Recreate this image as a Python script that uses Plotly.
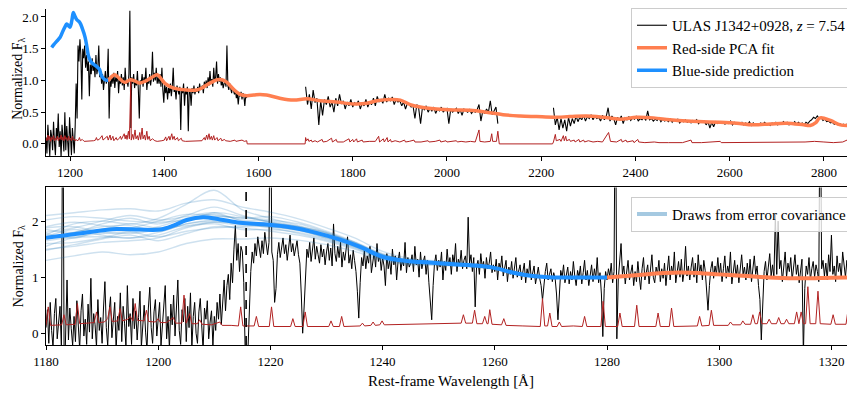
import plotly.graph_objects as go

# ---------------- TOP PANEL DATA ----------------
# observed spectrum (binned), segment A: 1149-1575 A, step 2 A
top_a_start, top_a_step = 1149.0, 2.0
top_a_flux = [
    0.10, -0.15, 0.30, 0.05, -0.20, 0.22, 0.12, -0.10, 0.35, 0.02,
    -0.18, 0.25, 0.08, 0.48, -0.05, 0.20, -0.22, 0.30, 0.10, -0.12,
    0.50, -0.10, 0.28, 0.05, -0.20, 0.42, 0.00, -0.18, 0.25, 0.10,
    -0.15, 0.30, 0.95, 0.40, 1.55, 1.30, 1.65, 1.40, 0.70, 1.50,
    1.35, 1.55, 1.20, 1.40, 1.15, 1.30, 0.75, 1.25, 1.10, 1.35,
    1.15, 1.25, 1.05, 1.40, 1.10, 1.20, 1.55, 1.05, 1.15, 0.95,
    1.10, 0.85, 1.00, 1.15, 0.95, 1.05, 1.50, 0.40, 1.00, 0.90,
    1.08, 0.95, 1.12, 0.88, 1.05, 0.98, 1.15, 0.80, 1.02, 0.95,
    1.10, 0.92, 1.05, 0.85, 1.20, 0.95, 1.00, 0.90, 1.10, 2.10,
    0.25, 1.05, 0.95, 1.10, 0.88, 1.00, 0.92, 1.15, 0.85, 0.40,
    1.00, 0.95, 1.10, 0.90, 1.05, 0.98, 1.20, 0.85, 1.02, 0.95,
    1.10, 0.92, 1.05, 1.45, 0.98, 1.12, 1.00, 1.20, 0.95, 1.05,
    0.95, 1.10, 0.90, 1.20, 0.85, 0.65, 0.95, 0.80, 0.90, 0.70,
    0.88, 0.80, 0.95, 0.75, 0.90, 1.20, 0.82, 0.88, 0.70, 0.92,
    0.85, 0.78, 0.90, 0.22, 0.88, 0.80, 0.95, 0.60, 0.85, 0.78,
    0.90, 0.20, 0.85, 0.82, 0.60, 0.88, 0.80, 0.92, 0.78, 0.85,
    0.82, 0.90, 0.80, 0.95, 0.85, 0.88, 0.92, 0.80, 0.98, 0.90,
    1.00, 0.88, 1.05, 0.92, 1.15, 0.95, 1.02, 0.90, 1.20, 0.98,
    1.05, 1.30, 0.95, 1.10, 0.98, 1.05, 0.92, 1.00, 0.88, 0.95,
    1.00, 0.90, 1.55, 0.92, 0.85, 0.95, 0.88, 0.80, 0.90, 0.82,
    0.78, 0.85, 0.72, 0.80, 0.62, 0.78, 0.75, 0.82, 0.70, 0.80,
    0.75, 0.60, 0.78, 0.72,
]
# segment C: 1700-2108 A, step 4 A
top_c_start, top_c_step = 1700.0, 4.0
top_c_flux = [
    0.90, 0.62, 0.78, 0.55, 0.85, 0.65, 0.72, 0.30, 0.68, 0.45,
    0.70, 0.62, 0.75, 0.58, 0.66, 0.50, 0.72, 0.60, 0.78, 0.63,
    0.68, 0.55, 0.66, 0.60, 0.70, 0.58, 0.65, 0.62, 0.68, 0.55,
    0.64, 0.60, 0.70, 0.58, 0.66, 0.62, 0.72, 0.60, 0.75, 0.66,
    0.70, 0.64, 0.78, 0.66, 0.72, 0.68, 0.74, 0.62, 0.70, 0.66,
    0.68, 0.60, 0.66, 0.55, 0.64, 0.62, 0.58, 0.60, 0.40, 0.62,
    0.56, 0.32, 0.58, 0.54, 0.60, 0.50, 0.56, 0.52, 0.58, 0.48,
    0.55, 0.52, 0.58, 0.50, 0.54, 0.56, 0.32, 0.55, 0.50, 0.53,
    0.56, 0.48, 0.54, 0.45, 0.55, 0.52, 0.50, 0.54, 0.48, 0.52,
    0.50, 0.54, 0.62, 0.36, 0.52, 0.48, 0.55, 0.50, 0.68, 0.46,
    0.52, 0.58, 0.32,
]
# segment D: 2226-2866 A, step 4 A
top_d_start, top_d_step = 2226.0, 4.0
top_d_flux = [
    0.57, 0.30, 0.42, 0.22, 0.40, 0.25, 0.38, 0.20, 0.42, 0.28,
    0.40, 0.32, 0.44, 0.35, 0.42, 0.38, 0.45, 0.36, 0.43, 0.40,
    0.46, 0.38, 0.44, 0.40, 0.42, 0.36, 0.45, 0.38, 0.43, 0.57,
    0.36, 0.44, 0.40, 0.30, 0.42, 0.38, 0.44, 0.32, 0.41, 0.38,
    0.43, 0.37, 0.41, 0.39, 0.44, 0.36, 0.40, 0.38, 0.42, 0.37,
    0.52, 0.38, 0.40, 0.36, 0.39, 0.37, 0.41, 0.35, 0.39, 0.36,
    0.38, 0.35, 0.40, 0.34, 0.38, 0.36, 0.39, 0.33, 0.37, 0.35,
    0.38, 0.34, 0.36, 0.33, 0.37, 0.35, 0.38, 0.32, 0.36, 0.34,
    0.36, 0.30, 0.35, 0.25, 0.34, 0.27, 0.35, 0.32, 0.34, 0.33,
    0.35, 0.31, 0.34, 0.32, 0.36, 0.30, 0.34, 0.31, 0.33, 0.32,
    0.34, 0.30, 0.33, 0.31, 0.35, 0.29, 0.33, 0.30, 0.32, 0.31,
    0.33, 0.30, 0.34, 0.31, 0.32, 0.29, 0.33, 0.31, 0.34, 0.30,
    0.33, 0.31, 0.35, 0.32, 0.34, 0.30, 0.33, 0.32, 0.35, 0.31,
    0.34, 0.31, 0.33, 0.30, 0.34, 0.32, 0.36, 0.38, 0.42, 0.40,
    0.44, 0.40, 0.42, 0.37, 0.39, 0.35, 0.36, 0.33, 0.34, 0.31,
    0.33, 0.30, 0.32, 0.29, 0.31, 0.28, 0.32, 0.30, 0.31, 0.29,
    0.30,
]

# noise (error) spectrum, top panel
top_err_wl = [
    1149, 1151, 1153, 1155, 1157, 1159, 1161, 1163, 1165, 1167, 1169, 1171, 1173, 1175, 1177, 1179,
    1181, 1183, 1185, 1187, 1189, 1191, 1193, 1195, 1197, 1199, 1201, 1203, 1205, 1207, 1209, 1211,
    1213, 1215, 1218, 1220, 1222, 1226, 1230, 1240, 1250, 1254, 1256, 1258, 1262, 1268, 1270, 1279,
    1281, 1285, 1287, 1291, 1293, 1298, 1300, 1305, 1307, 1309, 1313, 1315, 1317, 1319, 1321, 1324,
    1326, 1329, 1330, 1333, 1335, 1338, 1340, 1343, 1345, 1348, 1350, 1353, 1355, 1358, 1360, 1363,
    1365, 1368, 1370, 1375, 1380, 1385, 1395, 1400, 1403, 1405, 1410, 1412, 1416, 1418, 1421, 1423,
    1428, 1430, 1436, 1438, 1445, 1460, 1470, 1475, 1480, 1485, 1487, 1490, 1492, 1495, 1497, 1500,
    1502, 1505, 1507, 1512, 1514, 1520, 1522, 1528, 1530, 1540, 1550, 1552, 1560, 1565, 1570, 1575,
    1576, 1699,
    1700, 1702, 1705, 1707, 1712, 1714, 1720, 1725, 1735, 1737, 1745, 1755, 1757, 1765, 1767, 1780,
    1792, 1794, 1800, 1802, 1808, 1810, 1820, 1822, 1835, 1848, 1855, 1857, 1865, 1867, 1873, 1875,
    1880, 1882, 1890, 1900, 1910, 1912, 1920, 1930, 1932, 1945, 1960, 1962, 1975, 1985, 1987, 1998,
    2000, 2010, 2020, 2022, 2030, 2040, 2050, 2060, 2068, 2070, 2080, 2092, 2095, 2097, 2105, 2108,
    2110, 2111, 2224,
    2226, 2230, 2232, 2240, 2242, 2247, 2249, 2252, 2254, 2260, 2262, 2270, 2272, 2280, 2282, 2290,
    2292, 2300, 2310, 2320, 2330, 2343, 2347, 2360, 2370, 2372, 2380, 2382, 2395, 2397, 2405, 2407,
    2420, 2440, 2450, 2470, 2500, 2518, 2520, 2540, 2560, 2562, 2580, 2582, 2600, 2620, 2640, 2660,
    2680, 2700, 2720, 2740, 2760, 2780, 2790, 2800, 2820, 2840, 2855, 2858, 2866,
]
top_err_val = [
    0.10, 0.05, 0.14, 0.06, 0.12, 0.04, 0.10, 0.07, 0.13, 0.05, 0.09, 0.06, 0.12, 0.05, 0.10, 0.07,
    0.14, 0.06, 0.11, 0.05, 0.13, 0.07, 0.10, 0.05, 0.12, 0.06, 0.09, 0.05, 0.12, 0.06, 0.08, 0.05,
    0.07, 0.05, 0.06, 0.10, 0.05, 0.07, 0.04, 0.04, 0.05, 0.06, 0.10, 0.06, 0.07, 0.13, 0.06, 0.12,
    0.06, 0.14, 0.06, 0.12, 0.05, 0.10, 0.06, 0.09, 0.12, 0.07, 0.13, 0.16, 0.08, 0.14, 0.07, 0.20,
    0.08, 1.00, 0.06, 0.15, 0.07, 0.22, 0.08, 0.13, 0.06, 0.18, 0.07, 0.25, 0.08, 0.14, 0.06, 0.20,
    0.07, 0.12, 0.05, 0.08, 0.05, 0.04, 0.05, 0.06, 0.11, 0.05, 0.12, 0.06, 0.16, 0.07, 0.12, 0.06,
    0.10, 0.05, 0.09, 0.05, 0.04, 0.04, 0.05, 0.04, 0.05, 0.10, 0.06, 0.14, 0.07, 0.16, 0.07, 0.12,
    0.06, 0.13, 0.06, 0.10, 0.05, 0.09, 0.05, 0.07, 0.05, 0.04, 0.06, 0.04, 0.05, 0.06, 0.04, 0.05,
    0.00, 0.00,
    0.10, 0.05, 0.08, 0.04, 0.06, 0.03, 0.05, 0.03, 0.07, 0.03, 0.04, 0.09, 0.03, 0.07, 0.03, 0.03,
    0.08, 0.03, 0.07, 0.03, 0.08, 0.03, 0.06, 0.03, 0.04, 0.04, 0.12, 0.03, 0.08, 0.03, 0.10, 0.03,
    0.07, 0.03, 0.05, 0.03, 0.06, 0.03, 0.04, 0.06, 0.03, 0.03, 0.05, 0.03, 0.04, 0.06, 0.03, 0.05,
    0.03, 0.04, 0.05, 0.03, 0.04, 0.03, 0.04, 0.03, 0.22, 0.04, 0.03, 0.04, 0.16, 0.04, 0.04, 0.20,
    0.03, 0.00, 0.00,
    0.03, 0.15, 0.05, 0.07, 0.04, 0.13, 0.05, 0.12, 0.05, 0.07, 0.04, 0.06, 0.03, 0.07, 0.03, 0.06,
    0.03, 0.05, 0.03, 0.04, 0.03, 0.18, 0.04, 0.03, 0.07, 0.03, 0.06, 0.03, 0.05, 0.02, 0.07, 0.03,
    0.02, 0.03, 0.02, 0.02, 0.02, 0.06, 0.02, 0.02, 0.03, 0.02, 0.04, 0.02, 0.02, 0.03, 0.02, 0.03,
    0.02, 0.02, 0.03, 0.02, 0.03, 0.04, 0.03, 0.03, 0.02, 0.03, 0.08, 0.04, 0.03,
]

# red-side PCA fit (top)
top_fit_wl = [1280, 1287, 1295, 1305, 1316, 1328, 1338, 1348, 1360, 1372, 1385, 1394, 1402, 1420,
              1448, 1469, 1480, 1490, 1500, 1512, 1522, 1533, 1547, 1561, 1575, 1590, 1603, 1617,
              1645, 1674, 1703, 1731, 1766, 1802, 1830, 1851, 1880, 1901, 1922, 1943, 1978, 2013,
              2049, 2084, 2119, 2155, 2190, 2226, 2261, 2296, 2332, 2367, 2403, 2438, 2473, 2509,
              2544, 2579, 2615, 2650, 2686, 2721, 2757, 2771, 2782, 2792, 2814, 2835, 2866]
top_fit_val = [0.99, 1.05, 1.09, 1.03, 0.97, 1.01, 0.99, 0.96, 0.99, 1.04, 1.09, 1.02, 0.95, 0.88,
               0.85, 0.85, 0.88, 0.93, 0.97, 1.01, 1.01, 0.97, 0.86, 0.78, 0.76, 0.77, 0.78, 0.77,
               0.72, 0.69, 0.71, 0.68, 0.66, 0.63, 0.64, 0.68, 0.70, 0.69, 0.62, 0.58, 0.55, 0.535,
               0.53, 0.50, 0.46, 0.44, 0.43, 0.42, 0.43, 0.44, 0.42, 0.39, 0.42, 0.41, 0.38, 0.36,
               0.35, 0.34, 0.325, 0.30, 0.315, 0.325, 0.30, 0.29, 0.33, 0.41, 0.37, 0.30, 0.29]

# blue-side prediction (top)
top_pred_wl = [1161, 1166, 1172, 1179, 1185, 1189, 1193, 1197, 1200, 1204, 1207, 1210, 1214, 1221,
               1226, 1232, 1236, 1239, 1244, 1249, 1255, 1262, 1267, 1274, 1281]
top_pred_val = [1.52, 1.57, 1.62, 1.68, 1.78, 1.84, 1.89, 1.86, 1.84, 1.95, 2.07, 2.02, 1.96, 1.91,
                1.82, 1.68, 1.52, 1.39, 1.30, 1.26, 1.23, 1.18, 1.07, 1.01, 1.00]

# ---------------- BOTTOM PANEL DATA ----------------
bot_start, bot_step = 1180.0, 0.25
bot_flux = [
    # 1180
    0.10, 0.42, -0.18, 0.55, 0.05, -0.25, 0.35, 0.62, -0.10, 0.20, 0.48, -0.30, 5.00, -1.00, 0.30, 0.95, -0.12, 0.45, 0.08, -0.22,
    # 1185
    0.30, -0.15, 0.58, 0.12, -0.28, 0.40, 0.70, -0.05, 0.25, -0.20, 0.52, 0.02, 0.98, -0.10, 0.35, 0.15, -0.25, 0.60, 0.05, 0.28,
    # 1190
    -0.18, 0.45, 0.92, 0.10, -0.22, 0.38, 0.65, -0.08, 0.22, 0.55, -0.30, 0.30, 0.05, 0.72, -0.15, 0.48, 0.18, -0.25, 0.85, 0.12,
    # 1195
    0.35, -0.20, 0.62, 0.08, 0.40, -0.12, 0.28, 0.75, -0.25, 0.18, 0.50, 0.02, -0.30, 0.45, 0.82, 0.10, -0.18, 0.38, 0.60, -0.05,
    # 1200
    0.25, 0.55, -0.22, 0.12, 0.40, 0.85, -0.10, 0.30, -0.28, 0.52, 0.15, 0.68, -0.05, 0.35, 0.95, 0.05, -0.20, 0.42, 0.20, 0.62,
    # 1205
    -0.15, 0.48, 0.10, 0.72, -0.25, 0.30, 0.55, 0.00, -0.18, 0.38, 0.62, 0.15, -0.30, 0.45, 0.25, 0.58, -0.10, 0.20, 0.40, -0.22,
    # 1210
    0.30, 0.05, 0.55, 0.25, 0.70, 0.15, 0.60, 0.95, 0.40, 0.85, 1.05, 0.60, 1.25, 0.90, 1.50, 1.92, 1.30, 1.60, 1.10, 1.55,
    # 1215
    1.45, 0.90, -0.30, -0.35, -0.30, 0.60, 1.10, 1.45, 1.25, 1.60, 1.38, 1.72, 1.50, 1.35, 1.65, 1.42, 1.80, 1.55, 1.40, 1.62,
    # 1220
    5.00, 1.45, 1.30, 0.55, 0.80, 1.40, 1.62, 1.35, 1.55, 1.70, 1.42, 1.58, 1.30, 1.50, 1.75, 1.45, 1.60, 1.38, 1.52, 1.65,
    # 1225
    1.40, 1.25, 0.70, 0.00, 0.45, 1.10, 1.50, 1.35, 1.62, 1.28, 1.48, 1.70, 1.32, 1.55, 1.40, 1.25, 1.58, 1.36, 1.50, 1.22,
    # 1230
    1.45, 1.60, 1.30, 1.52, 1.20, 1.95, 1.42, 1.28, 1.55, 1.35, 1.62, 1.18, 1.45, 1.30, 1.50, 1.72, 1.25, 1.40, 1.15, 1.48,
    # 1235
    1.30, 1.10, 0.75, 0.27, 0.90, 1.35, 1.20, 1.48, 1.15, 1.38, 1.25, 1.55, 1.08, 1.32, 1.45, 1.18, 1.60, 1.28, 1.40, 1.12,
    # 1240
    1.35, 1.20, 0.85, 1.42, 1.15, 1.30, 1.05, 1.50, 1.22, 1.38, 0.95, 1.28, 1.45, 1.12, 1.30, 1.20, 1.62, 1.08, 1.35, 1.18,
    # 1245
    1.25, 1.40, 1.10, 1.55, 1.22, 1.32, 1.00, 1.45, 1.15, 1.28, 1.38, 1.05, 1.30, 0.90, 0.60, 0.24, 0.85, 1.25, 1.40, 1.12,
    # 1250
    1.30, 1.18, 1.45, 0.95, 1.28, 1.12, 1.50, 1.20, 1.35, 1.05, 1.40, 1.25, 1.60, 1.10, 1.32, 1.22, 1.48, 1.15, 1.30, 1.38,
    # 1255
    1.15, 2.07, 1.25, 1.40, 1.10, 1.35, 0.47, 1.20, 1.30, 1.05, 1.42, 1.18, 1.28, 0.98, 1.35, 1.15, 1.25, 1.45, 1.08, 1.22,
    # 1260
    1.10, 1.32, 0.95, 1.25, 1.15, 1.38, 1.02, 1.20, 1.30, 0.92, 1.18, 1.05, 1.28, 0.98, 1.15, 1.35, 1.00, 1.12, 1.22, 0.95,
    # 1265
    1.08, 1.25, 0.90, 1.15, 1.02, 1.30, 0.95, 1.12, 1.20, 0.88, 1.05, 1.18, 0.98, 0.85, 0.59, 0.92, 1.10, 1.25, 0.95, 1.05,
    # 1270
    1.15, 0.92, 1.08, 0.98, 0.70, 0.24, 0.80, 1.12, 1.00, 1.22, 0.90, 1.05, 1.18, 0.88, 1.10, 0.95, 1.28, 1.02, 0.85, 1.12,
    # 1275
    1.00, 1.20, 0.88, 1.08, 1.30, 0.95, 1.12, 0.85, 1.05, 1.22, 0.92, 1.15, 0.98, 1.35, 0.90, 1.08, 0.70, -0.06, 0.80, 1.10,
    # 1280
    0.95, 1.15, 1.02, 1.25, 0.90, 1.10, 5.00, -0.10, 0.95, 1.35, 1.60, 1.05, 1.20, 0.88, 1.12, 1.30, 0.95, 1.08, 1.22, 0.85,
    # 1285
    1.10, 0.92, 1.28, 1.00, 0.78, 1.15, 1.35, 0.95, 1.08, 1.22, 0.88, 1.12, 1.40, 1.00, 0.90, 1.18, 1.05, 1.30, 0.92, 1.15,
    # 1290
    0.98, 1.25, 0.85, 1.12, 1.38, 0.95, 1.20, 1.05, 1.45, 0.90, 1.15, 1.28, 1.00, 1.32, 0.92, 1.10, 1.55, 1.02, 1.20, 0.95,
    # 1295
    1.18, 1.35, 1.00, 1.25, 0.90, 1.40, 1.08, 1.22, 0.95, 1.30, 1.12, 0.80, 0.41, 0.85, 1.15, 1.28, 0.98, 1.20, 1.05, 1.35,
    # 1300
    1.02, 1.25, 0.92, 1.15, 1.38, 0.98, 1.20, 1.08, 1.45, 0.88, 1.12, 1.30, 1.00, 1.22, 0.90, 1.15, 1.40, 1.05, 1.18, 0.95,
    # 1305
    1.25, 1.00, 1.32, 0.92, 1.15, 1.38, 1.05, 1.20, 0.85, 0.60, -0.12, 0.70, 1.10, 1.28, 0.95, 1.18, 1.42, 1.02, 1.22, 0.98,
    # 1310
    2.12, 1.05, 2.00, 1.15, 1.30, 0.92, 1.20, 1.45, 1.00, 1.25, 1.10, 1.35, 0.95, 1.18, 1.40, 1.05, 1.22, 0.90, 1.15, 1.32,
    # 1315
    -0.40, 0.80, 1.20, 1.05, 1.35, 0.95, 1.15, 1.28, 1.00, 1.22, 1.10, 0.92, 5.00, 1.15, 1.30, 1.02, 1.25, 0.95, 1.40, 1.10,
    # 1320
    1.75, 1.05, 1.20, 0.92, 1.38, 1.10, 1.25, 0.98, 1.45, 1.15, 1.00, 1.30, 0.95, 1.20, 1.42, 1.05, 1.18, 0.90, 1.28, 1.12,
]

bot_err_wl = [
    1180.0, 1180.4, 1180.8, 1182.0, 1182.8, 1183.2, 1183.6, 1185.2, 1185.6, 1186.0, 1187.5, 1188.6,
    1189.0, 1189.4, 1190.4, 1191.0, 1191.4, 1191.8, 1192.8, 1193.2, 1193.6, 1194.6, 1195.0, 1195.5,
    1195.9, 1196.3, 1197.5, 1197.9, 1198.3, 1199.5, 1200.0, 1200.4, 1201.5, 1202.7, 1203.1, 1204.2,
    1204.6, 1205.0, 1205.6, 1206.0, 1207.0, 1207.4, 1207.8, 1209.5, 1211.0, 1211.4, 1213.0, 1214.3,
    1214.7, 1215.1, 1217.1, 1217.5, 1217.9, 1219.8, 1220.2, 1220.6, 1223.6, 1224.0, 1224.4, 1225.8,
    1226.2, 1226.6, 1230.4, 1230.8, 1231.2, 1232.3, 1232.7, 1233.1, 1236.0, 1236.4, 1236.8, 1237.9,
    1238.3, 1238.7, 1239.5, 1239.9, 1240.3, 1244.0, 1246.0, 1250.0, 1252.0, 1254.0, 1254.4, 1254.8,
    1256.0, 1256.4, 1256.8, 1257.8, 1258.2, 1258.6, 1258.8, 1259.1, 1259.5, 1261.2, 1261.6, 1262.0,
    1265.0, 1268.1, 1268.5, 1268.9, 1269.4, 1269.8, 1270.2, 1271.1, 1271.5, 1271.9, 1274.0, 1275.6,
    1276.0, 1276.4, 1278.9, 1279.3, 1279.7, 1281.9, 1282.3, 1282.7, 1284.9, 1285.3, 1285.7, 1288.7,
    1289.1, 1289.5, 1291.1, 1291.5, 1291.9, 1294.0, 1296.1, 1296.5, 1296.9, 1298.2, 1298.6, 1299.0,
    1301.6, 1302.0, 1302.4, 1303.8, 1304.2, 1304.6, 1305.6, 1306.0, 1306.4, 1306.8, 1307.2, 1307.6,
    1308.5, 1308.9, 1309.3, 1310.2, 1310.6, 1311.0, 1311.6, 1312.0, 1312.4, 1313.4, 1313.8, 1314.2,
    1314.6, 1315.0, 1315.4, 1315.8, 1316.2, 1317.2, 1317.6, 1318.0, 1319.9, 1320.3, 1320.7, 1322.6,
    1323.0, 1323.4, 1324.5,
]
bot_err_val = [
    0.14, 0.47, 0.14, 0.15, 0.15, 0.33, 0.15, 0.16, 0.53, 0.17, 0.18, 0.19,
    0.38, 0.19, 0.20, 0.26, 0.47, 0.21, 0.22, 0.44, 0.22, 0.25, 0.30, 0.22,
    0.53, 0.23, 0.22, 0.41, 0.21, 0.20, 0.26, 0.19, 0.19, 0.28, 0.18, 0.18,
    0.68, 0.18, 0.35, 0.17, 0.17, 0.24, 0.16, 0.15, 0.20, 0.14, 0.14, 0.13,
    0.47, 0.13, 0.13, 0.30, 0.12, 0.12, 0.47, 0.12, 0.12, 0.26, 0.12, 0.12,
    0.38, 0.12, 0.12, 0.22, 0.12, 0.12, 0.30, 0.12, 0.13, 0.18, 0.13, 0.14,
    0.20, 0.14, 0.15, 0.22, 0.15, 0.16, 0.17, 0.17, 0.18, 0.18, 0.33, 0.18,
    0.18, 0.41, 0.17, 0.17, 0.30, 0.17, 0.17, 0.42, 0.16, 0.15, 0.26, 0.14,
    0.13, 0.12, 0.62, 0.13, 0.13, 0.36, 0.12, 0.12, 0.20, 0.12, 0.13, 0.12,
    0.30, 0.12, 0.12, 0.57, 0.12, 0.12, 0.36, 0.12, 0.12, 0.50, 0.12, 0.12,
    0.36, 0.12, 0.12, 0.45, 0.12, 0.13, 0.13, 0.30, 0.13, 0.14, 0.41, 0.14,
    0.14, 0.20, 0.15, 0.15, 0.22, 0.16, 0.16, 0.33, 0.17, 0.17, 0.38, 0.17,
    0.17, 0.25, 0.17, 0.17, 0.28, 0.17, 0.17, 0.25, 0.17, 0.17, 0.38, 0.17,
    0.38, 0.17, 0.17, 0.83, 0.17, 0.17, 0.75, 0.17, 0.16, 0.33, 0.16, 0.16,
    0.45, 0.16, 0.16,
]

bot_pred_wl = [1180.0, 1186.6, 1192.6, 1196.7, 1200.3, 1202.7, 1205.1, 1208.0, 1211.0, 1214.6,
               1219.3, 1223.5, 1228.2, 1232.4, 1236.0, 1240.1, 1244.3, 1248.4, 1252.6, 1256.1,
               1259.7, 1263.3, 1266.8, 1270.4, 1275.0, 1280.0]
bot_pred_val = [1.705, 1.79, 1.86, 1.85, 1.85, 1.92, 2.02, 2.07, 2.03, 1.97,
                1.94, 1.89, 1.79, 1.67, 1.54, 1.36, 1.29, 1.26, 1.23, 1.21,
                1.17, 1.08, 1.02, 0.995, 0.995, 0.995]

bot_fit_wl = [1280.0, 1285.0, 1290.0, 1295.0, 1300.0, 1305.0, 1310.0, 1315.0, 1320.0, 1324.5]
bot_fit_val = [0.995, 1.035, 1.075, 1.08, 1.05, 1.02, 0.99, 0.98, 0.99, 0.995]

# draws from the error covariance (grid 1180..1280 A, every 5 A)
draw_wl = [1180, 1185, 1190, 1195, 1200, 1205, 1210, 1215, 1220, 1225, 1230,
           1235, 1240, 1245, 1250, 1255, 1260, 1265, 1270, 1275, 1280]
draws = [
    [2.10, 2.15, 2.20, 2.22, 2.18, 2.32, 2.38, 2.25, 2.16, 2.04, 1.88, 1.70, 1.46, 1.33, 1.29, 1.25, 1.18, 1.06, 1.01, 1.00, 0.995],
    [1.30, 1.38, 1.45, 1.40, 1.45, 1.60, 1.68, 1.68, 1.70, 1.66, 1.58, 1.46, 1.30, 1.22, 1.21, 1.19, 1.14, 1.04, 0.99, 0.99, 0.995],
    [1.85, 1.80, 1.95, 2.05, 1.95, 2.10, 2.25, 2.10, 1.98, 1.90, 1.80, 1.60, 1.40, 1.29, 1.26, 1.23, 1.17, 1.06, 1.00, 1.00, 0.995],
    [1.55, 1.70, 1.72, 1.70, 1.75, 1.90, 1.95, 1.85, 1.85, 1.80, 1.68, 1.53, 1.33, 1.25, 1.24, 1.21, 1.15, 1.05, 1.00, 0.99, 0.995],
    [1.75, 1.95, 2.00, 1.95, 2.05, 2.30, 2.55, 2.20, 2.05, 1.92, 1.78, 1.62, 1.40, 1.29, 1.27, 1.23, 1.17, 1.05, 1.00, 1.00, 0.995],
    [1.60, 1.62, 1.70, 1.80, 1.72, 1.82, 1.88, 1.90, 1.90, 1.83, 1.70, 1.55, 1.36, 1.26, 1.24, 1.22, 1.16, 1.05, 1.00, 0.995, 0.995],
    [1.90, 1.98, 1.92, 1.88, 2.00, 2.12, 2.10, 2.05, 2.08, 1.98, 1.82, 1.63, 1.42, 1.30, 1.27, 1.23, 1.17, 1.06, 1.01, 1.00, 0.995],
    [1.48, 1.58, 1.68, 1.75, 1.65, 1.78, 1.90, 1.88, 1.82, 1.75, 1.64, 1.50, 1.32, 1.24, 1.23, 1.21, 1.15, 1.04, 0.99, 0.99, 0.995],
    [1.80, 1.88, 2.00, 2.10, 2.02, 2.08, 2.15, 2.00, 1.95, 1.88, 1.76, 1.58, 1.38, 1.28, 1.25, 1.22, 1.16, 1.05, 1.00, 0.995, 0.995],
    [1.65, 1.72, 1.78, 1.82, 1.90, 2.05, 2.12, 2.02, 2.00, 1.90, 1.75, 1.56, 1.36, 1.27, 1.26, 1.22, 1.16, 1.05, 1.00, 0.995, 0.995],
    [1.72, 1.85, 1.75, 1.70, 1.80, 1.95, 2.00, 1.95, 1.90, 1.84, 1.70, 1.55, 1.37, 1.27, 1.25, 1.22, 1.16, 1.05, 1.00, 0.995, 0.995],
    [2.02, 2.08, 2.05, 2.00, 1.98, 2.02, 2.08, 2.06, 2.02, 1.95, 1.80, 1.62, 1.40, 1.29, 1.26, 1.23, 1.17, 1.05, 1.00, 1.00, 0.995],
    [1.50, 1.55, 1.62, 1.65, 1.70, 1.88, 1.98, 1.95, 1.88, 1.78, 1.66, 1.52, 1.34, 1.25, 1.24, 1.21, 1.15, 1.05, 0.99, 0.99, 0.995],
    [1.78, 1.70, 1.85, 1.95, 1.88, 1.92, 1.98, 1.92, 1.96, 1.90, 1.78, 1.60, 1.39, 1.28, 1.25, 1.22, 1.16, 1.05, 1.00, 0.995, 0.995],
    [1.68, 1.80, 1.90, 1.92, 1.82, 1.95, 2.02, 1.98, 1.92, 1.85, 1.72, 1.57, 1.37, 1.27, 1.25, 1.22, 1.16, 1.05, 1.00, 0.995, 0.995],
    [1.88, 1.90, 1.80, 1.78, 1.85, 2.00, 2.15, 2.08, 1.98, 1.87, 1.74, 1.58, 1.38, 1.27, 1.25, 1.22, 1.16, 1.05, 1.00, 0.995, 0.995],
]

LYA = 1215.67
top_xticks = [1200, 1400, 1600, 1800, 2000, 2200, 2400, 2600, 2800]
top_yticks = [0.0, 0.5, 1.0, 1.5, 2.0]
top_yticklabels = ["0.0", "0.5", "1.0", "1.5", "2.0"]
bot_xticks = [1180, 1200, 1220, 1240, 1260, 1280, 1300, 1320]
bot_yticks = [0, 1, 2]

# ---------------- styles ----------------
BLACK = "black"
RED = "#b22222"
ORANGE = "#ff7f50"
BLUE = "#1e90ff"
FONT = "Liberation Serif"


def grid(start, step, vals):
    return [start + i * step for i in range(len(vals))]


top_x, top_y = [], []
for s, st, v in [(top_a_start, top_a_step, top_a_flux),
                 (top_c_start, top_c_step, top_c_flux),
                 (top_d_start, top_d_step, top_d_flux)]:
    top_x += grid(s, st, v) + [None]
    top_y += list(v) + [None]

fig = go.Figure()

# top panel
fig.add_trace(go.Scatter(x=top_x, y=top_y, mode="lines", line=dict(color=BLACK, width=1.1),
                         name="ULAS J1342+0928, <i>z</i> = 7.54", xaxis="x", yaxis="y",
                         connectgaps=False))
fig.add_trace(go.Scatter(x=top_err_wl, y=top_err_val, mode="lines", line=dict(color=RED, width=1),
                         showlegend=False, xaxis="x", yaxis="y"))
fig.add_trace(go.Scatter(x=top_fit_wl, y=top_fit_val, mode="lines", line=dict(color=ORANGE, width=3.5, shape="spline"),
                         name="Red-side PCA fit", xaxis="x", yaxis="y"))
fig.add_trace(go.Scatter(x=top_pred_wl, y=top_pred_val, mode="lines", line=dict(color=BLUE, width=3.5, shape="spline"),
                         name="Blue-side prediction", xaxis="x", yaxis="y"))

# bottom panel
fig.add_trace(go.Scatter(x=grid(bot_start, bot_step, bot_flux), y=bot_flux, mode="lines",
                         line=dict(color=BLACK, width=1.0), showlegend=False, xaxis="x2", yaxis="y2"))
fig.add_trace(go.Scatter(x=bot_err_wl, y=bot_err_val, mode="lines", line=dict(color=RED, width=1),
                         showlegend=False, xaxis="x2", yaxis="y2"))
for d in draws:
    fig.add_trace(go.Scatter(x=draw_wl, y=d, mode="lines",
                             line=dict(color="rgba(31,119,180,0.22)", width=1.4, shape="spline"),
                             showlegend=False, hoverinfo="skip", xaxis="x2", yaxis="y2"))
fig.add_trace(go.Scatter(x=[None], y=[None], mode="lines",
                         line=dict(color="rgba(31,119,180,0.4)", width=4),
                         name="Draws from error covariance", legend="legend2", xaxis="x2", yaxis="y2"))
fig.add_trace(go.Scatter(x=bot_pred_wl, y=bot_pred_val, mode="lines", line=dict(color=BLUE, width=4, shape="spline"),
                         showlegend=False, xaxis="x2", yaxis="y2"))
fig.add_trace(go.Scatter(x=bot_fit_wl, y=bot_fit_val, mode="lines", line=dict(color=ORANGE, width=4, shape="spline"),
                         showlegend=False, xaxis="x2", yaxis="y2"))

fig.add_shape(type="line", x0=LYA, x1=LYA, xref="x2", y0=0, y1=1, yref="y2 domain",
              line=dict(color=BLACK, width=1.6, dash="dash"))

axis_common = dict(showgrid=False, zeroline=False, showline=True, linecolor=BLACK, linewidth=1,
                   ticks="outside", ticklen=4, tickwidth=1, tickcolor=BLACK, automargin=False,
                   tickfont=dict(family=FONT, size=13, color=BLACK))

# the page body adds an 8 px offset, so the figure is 8 px smaller than the window
fig.update_layout(
    width=847, height=387,
    margin=dict(l=38, r=0, t=0, b=50),
    paper_bgcolor="white", plot_bgcolor="white",
    font=dict(family=FONT, size=15, color=BLACK),
    xaxis=dict(domain=[0, 1], anchor="y", range=[1149, 2866], tickvals=top_xticks, **axis_common),
    yaxis=dict(domain=[0.5617, 1], anchor="x", range=[-0.195, 2.126], tickvals=top_yticks,
               ticktext=top_yticklabels, **axis_common),
    xaxis2=dict(domain=[0, 1], anchor="y2", range=[1180, 1324.2], tickvals=bot_xticks, mirror=True,
                **axis_common),
    yaxis2=dict(domain=[0, 0.4688], anchor="x2", range=[-0.21, 2.60], tickvals=bot_yticks, **axis_common),
    legend=dict(x=0.9963, y=1.004, xanchor="right", yanchor="top", bgcolor="rgba(255,255,255,0.85)",
                bordercolor="#cccccc", borderwidth=1, font=dict(family=FONT, size=15, color=BLACK),
                tracegroupgap=0, itemwidth=30),
    legend2=dict(x=0.9963, y=0.440, xanchor="right", yanchor="top", bgcolor="rgba(255,255,255,0.8)",
                 bordercolor="#cccccc", borderwidth=1, font=dict(family=FONT, size=15, color=BLACK),
                 itemwidth=30),
    showlegend=True,
    annotations=[
        dict(text="Normalized F<sub>λ</sub>", xref="paper", yref="paper", x=-0.0335, y=0.792,
             textangle=-90, showarrow=False, xanchor="center", yanchor="middle", borderpad=0,
             font=dict(family=FONT, size=14, color=BLACK)),
        dict(text="Normalized F<sub>λ</sub>", xref="paper", yref="paper", x=-0.0335, y=0.234,
             textangle=-90, showarrow=False, xanchor="center", yanchor="middle", borderpad=0,
             font=dict(family=FONT, size=14, color=BLACK)),
        dict(text="Rest-frame Wavelength [Å]", xref="paper", yref="paper", x=0.5, y=-0.107,
             showarrow=False, xanchor="center", yanchor="middle",
             font=dict(family=FONT, size=15, color=BLACK)),
    ],
)

fig.write_html("out.html")
